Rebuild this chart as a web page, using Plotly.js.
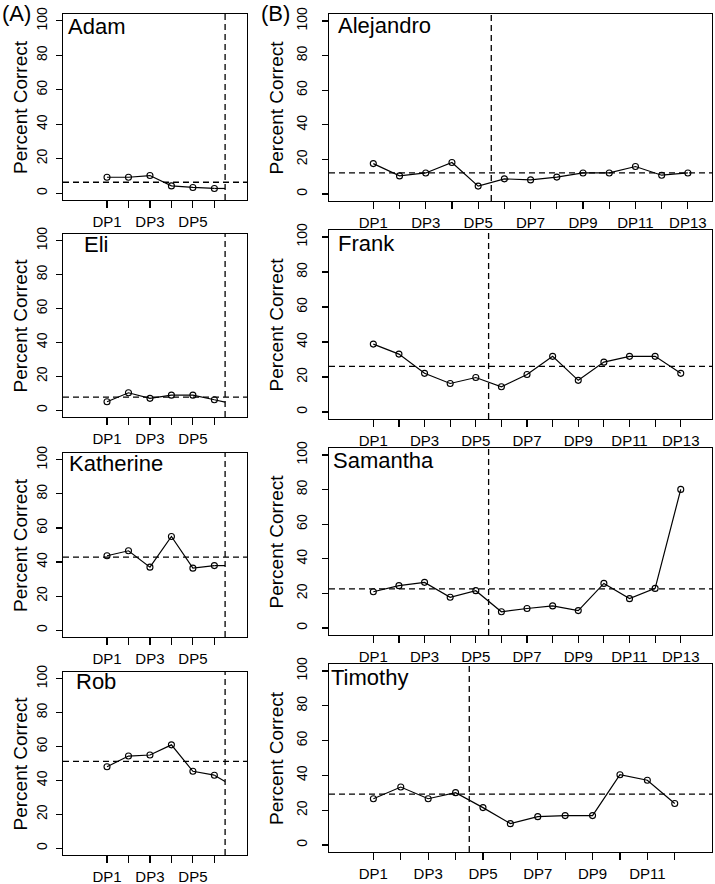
<!DOCTYPE html>
<html>
<head>
<meta charset="utf-8">
<script src="https://cdn.plot.ly/plotly-3.0.1.min.js"></script>
<style>html,body{margin:0;padding:0;background:#fff}#chart{width:715px;height:884px}</style>
</head>
<body>
<div id="chart"></div>
<script>
// ---- data ----
const participants = ['Adam','Eli','Katherine','Rob','Alejandro','Frank','Samantha','Timothy'];

const adam      = [9.2, 9.2, 10.2, 4.2, 3.3, 2.7];
const eli       = [5.0, 10.3, 7.0, 8.9, 8.9, 6.2];
const katherine = [43.7, 46.6, 37.0, 55.0, 36.4, 37.9];
const rob       = [48.1, 54.4, 55.0, 61.0, 45.4, 43.1];
const alejandro = [17.6, 10.5, 12.2, 18.2, 4.6, 8.8, 8.2, 9.8, 12.2, 12.2, 15.9, 10.9, 12.2];
const frank     = [38.8, 33.1, 22.1, 16.3, 19.7, 14.4, 21.4, 31.8, 18.1, 28.5, 31.8, 31.8, 22.1];
const samantha  = [21.0, 24.5, 26.4, 17.8, 21.6, 9.4, 11.3, 12.8, 10.1, 25.8, 17.0, 22.9, 80.1];
const timothy   = [26.6, 33.3, 26.6, 30.1, 21.5, 12.3, 16.3, 16.9, 16.9, 40.4, 37.2, 23.9];

// line continuing to the phase-change line (left panels only)
const tailValues = [2.7, 4.8, 37.9, 39.4, null, null, null, null];

// horizontal dashed reference (mean) lines
const meanLines = [6.3, 7.7, 42.9, 51.2, 12.3, 26.1, 22.6, 29.3];
// vertical dashed phase-change lines
const phaseChange = [6.5, 6.5, 6.5, 6.5, 5.5, 5.5, 5.5, 4.5];

const leftTickLabels  = ['DP1','','DP3','','DP5',''];
const rightTickLabels = ['DP1','','DP3','','DP5','','DP7','','DP9','','DP11','','DP13'];
const timothyTickLabels = ['DP1','','DP3','','DP5','','DP7','','DP9','','DP11',''];

const yTickVals = [0, 20, 40, 60, 80, 100];
const panelLetters = ['(A)', '(B)'];

const series = [adam, eli, katherine, rob, alejandro, frank, samantha, timothy];
const tickLabelSets = [leftTickLabels, leftTickLabels, leftTickLabels, leftTickLabels,
                       rightTickLabels, rightTickLabels, rightTickLabels, timothyTickLabels];

// ---- layout geometry (pixels) ----
const W = 715, H = 884;
const colX = [[63, 247], [329, 712]];
const rows = [[14,200],[234,417],[453,637],[672,855],[14,201],[230,419],[448,635],[664,852]];
const xRanges = [[-1.05,7.52],[-1.05,7.52],[-1.05,7.52],[-1.05,7.52],
                 [-0.69,13.92],[-0.73,14.22],[-0.73,14.22],[-0.62,13.36]];
const namePos = [[67,26],[83,244],[68,463],[75,681],[337,25],[337,243],[332,460],[330,677]];
const yTitleX = [20,20,20,20,276,276,276,276];

const FONT = 'Liberation Sans, Arial, Helvetica, sans-serif';
const traces = [], shapes = [], annotations = [];
const layout = {
  width: W, height: H,
  margin: {l:0, r:0, t:0, b:0},
  paper_bgcolor: '#fff', plot_bgcolor: '#fff',
  showlegend: false,
  font: {family: FONT, color: '#000'}
};

series.forEach((vals, i) => {
  const n = i + 1;
  const xa = 'x' + (n === 1 ? '' : n), ya = 'y' + (n === 1 ? '' : n);
  const xs = vals.map((_, k) => k + 1);
  const col = i < 4 ? colX[0] : colX[1];
  const r = rows[i];

  traces.push({
    type: 'scatter', mode: 'lines+markers', x: xs, y: vals,
    xaxis: xa, yaxis: ya,
    line: {color: '#000', width: 1.2},
    marker: {symbol: 'circle-open', size: 6, color: '#000', line: {width: 1.1, color: '#000'}},
    cliponaxis: false, hoverinfo: 'skip'
  });
  if (tailValues[i] !== null) {
    traces.push({
      type: 'scatter', mode: 'lines',
      x: [xs[xs.length-1], phaseChange[i]], y: [vals[vals.length-1], tailValues[i]],
      xaxis: xa, yaxis: ya, line: {color: '#000', width: 1.2}, hoverinfo: 'skip'
    });
  }

  const tickText = tickLabelSets[i];
  layout['xaxis' + (n === 1 ? '' : n)] = {
    domain: [col[0]/W, col[1]/W], anchor: ya,
    range: xRanges[i], showgrid: false, zeroline: false,
    showline: true, mirror: true, linecolor: '#000', linewidth: 1.2,
    tickmode: 'array', tickvals: tickText.map((_, k) => k + 1), ticktext: tickText,
    ticks: 'outside', ticklen: 7, tickwidth: 1.2, tickcolor: '#000',
    tickfont: {family: FONT, size: 15, color: '#000'}, ticklabelstandoff: 1
  };
  layout['yaxis' + (n === 1 ? '' : n)] = {
    domain: [1 - r[1]/H, 1 - r[0]/H], anchor: xa,
    range: [-4, 104], showgrid: false, zeroline: false,
    showline: true, mirror: true, linecolor: '#000', linewidth: 1.2,
    tickmode: 'array', tickvals: yTickVals,
    ticks: 'outside', ticklen: 6, tickwidth: 1.2, tickcolor: '#000',
    tickangle: -90, tickfont: {family: FONT, size: 14, color: '#000'},
    ticklabelstandoff: i < 4 ? 3 : 9
  };

  shapes.push({type: 'line', xref: xa + ' domain', yref: ya, x0: 0, x1: 1,
               y0: meanLines[i], y1: meanLines[i], line: {color: '#000', width: 1.3, dash: '6px,4px'}});
  shapes.push({type: 'line', xref: xa, yref: ya + ' domain', x0: phaseChange[i], x1: phaseChange[i],
               y0: 0, y1: 1, line: {color: '#000', width: 1.3, dash: '6px,4px'}});

  annotations.push({text: participants[i], xref: 'paper', yref: 'paper',
    x: namePos[i][0]/W, y: 1 - namePos[i][1]/H, xanchor: 'left', yanchor: 'middle',
    showarrow: false, borderpad: 0, font: {family: FONT, size: 22, color: '#000'}});
  annotations.push({text: 'Percent Correct', xref: 'paper', yref: 'paper',
    x: yTitleX[i]/W, y: 1 - ((r[0] + r[1]) / 2)/H, xanchor: 'center', yanchor: 'middle',
    textangle: -90, showarrow: false, font: {family: FONT, size: 19, color: '#000'}});
});

annotations.push({text: panelLetters[0], xref: 'paper', yref: 'paper', x: 0/W, y: 1 - 14/H,
  xanchor: 'left', yanchor: 'middle', showarrow: false, font: {family: FONT, size: 22, color: '#000'}});
annotations.push({text: panelLetters[1], xref: 'paper', yref: 'paper', x: 259/W, y: 1 - 14/H,
  xanchor: 'left', yanchor: 'middle', showarrow: false, font: {family: FONT, size: 22, color: '#000'}});

layout.shapes = shapes;
layout.annotations = annotations;

Plotly.newPlot('chart', traces, layout, {staticPlot: true, displayModeBar: false});
</script>
</body>
</html>
